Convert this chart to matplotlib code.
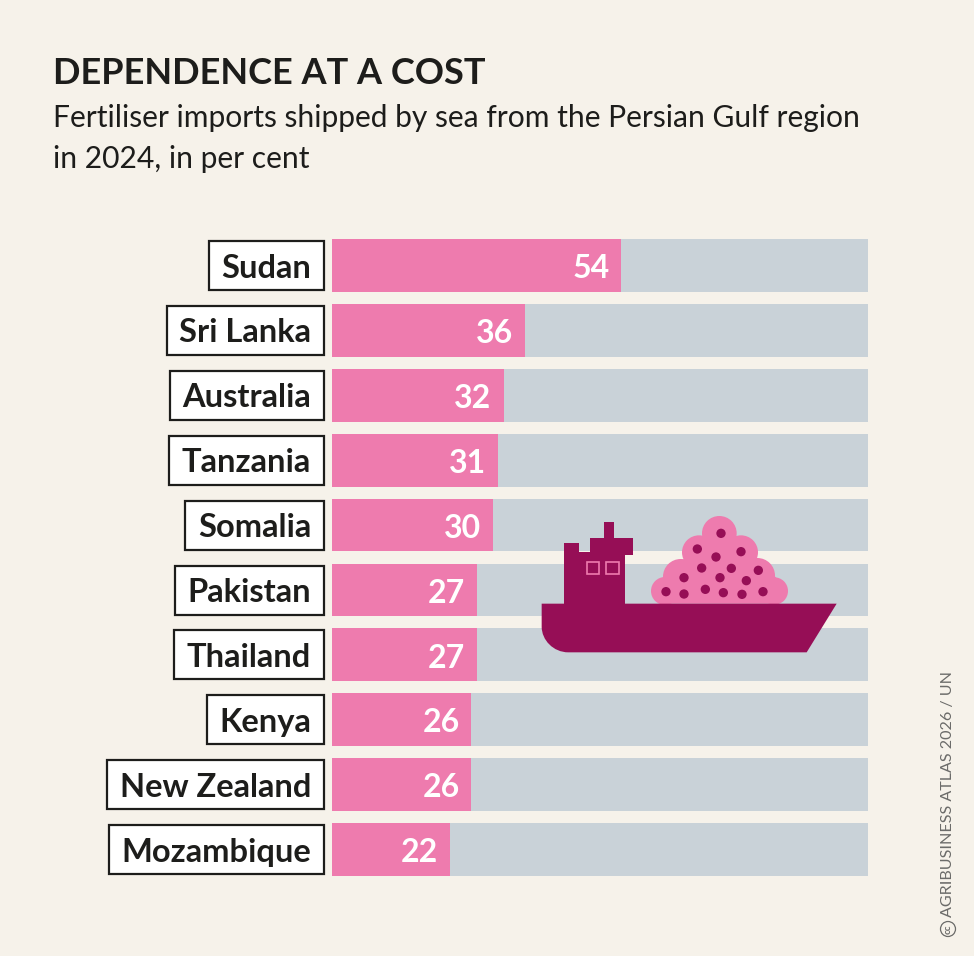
import matplotlib
matplotlib.use("Agg")
import matplotlib.pyplot as plt
from matplotlib.patches import Polygon, Circle, Rectangle, PathPatch
from matplotlib.path import Path

countries = ["Sudan", "Sri Lanka", "Australia", "Tanzania", "Somalia",
             "Pakistan", "Thailand", "Kenya", "New Zealand", "Mozambique"]
values = [54, 36, 32, 31, 30, 27, 27, 26, 26, 22]
full_scale = 100

BG = "#F6F2EA"
PINK = "#EE7BAE"
GREY = "#C9D2D8"
DARK = "#960E56"
INK = "#1D1D1B"
FONT = "Lato"

W, H = 974, 956
fig = plt.figure(figsize=(W / 100, H / 100), dpi=100, facecolor=BG)

# bars, axes placed by pixels
ax = fig.add_axes([332 / W, 1 - 882 / H, 536 / W, 649 / H])
ax.set_xlim(0, full_scale)
ax.set_ylim(9.5, -0.5)
ax.axis("off")
ypos = list(range(len(countries)))
ax.barh(ypos, [full_scale] * len(values), height=0.815, color=GREY, linewidth=0)
ax.barh(ypos, values, height=0.815, color=PINK, linewidth=0)
for y, v in zip(ypos, values):
    ax.annotate(str(v), xy=(v, y), xytext=(-8.6, -0.5), textcoords="offset points",
                ha="right", va="center_baseline", color="white",
                fontsize=23, fontweight="bold", family=FONT)

# overlay in pixel coordinates for the boxes, ship, titles
ov = fig.add_axes([0, 0, 1, 1], zorder=5)
ov.set_xlim(0, W)
ov.set_ylim(H, 0)
ov.axis("off")
ov.patch.set_alpha(0)

renderer = fig.canvas.get_renderer()
for i, name in enumerate(countries):
    yc = 265.5 + 64.9 * i
    t = ov.text(311, yc, name, ha="right", va="center_baseline", color=INK,
                fontsize=23.5, fontweight="bold", family=FONT, zorder=3)
    w = t.get_window_extent(renderer).width
    ov.add_patch(Rectangle((311 - w - 12.5, yc - 24.5), w + 25, 49, facecolor="white",
                           edgecolor=INK, linewidth=1.6, zorder=2))

ov.text(53, 70.5, "DEPENDENCE AT A COST", ha="left", va="center_baseline", color=INK,
        fontsize=26, fontweight="bold", family=FONT)
ov.text(53, 115.5, "Fertiliser imports shipped by sea from the Persian Gulf region",
        ha="left", va="center_baseline", color=INK, fontsize=21.6, family=FONT)
ov.text(53, 156.5, "in 2024, in per cent",
        ha="left", va="center_baseline", color=INK, fontsize=21.6, family=FONT)


def sx(z):
    return 530 + z / 3


def sy(z):
    return 505 + z / 3


# ship (crop coordinates)
pile = [(568, 85, 52), (507, 142, 51), (633, 142, 51), (452, 215, 53), (682, 212, 53),
        (405, 258, 42), (733, 258, 41)]
for cx, cy, r in pile:
    ov.add_patch(Circle((sx(cx), sy(cy)), r / 3, facecolor=PINK, linewidth=0, zorder=6))
ov.add_patch(Polygon([(sx(a), sy(b)) for a, b in
                      [(390, 296), (390, 225), (462, 162), (522, 92), (614, 92),
                       (680, 158), (745, 225), (745, 296)]],
                     facecolor=PINK, linewidth=0, zorder=6))
dots = [(573, 85), (502, 132), (633, 140), (558, 156), (515, 189), (604, 190), (685, 196),
        (462, 218), (570, 218), (649, 227), (526, 253), (408, 260), (462, 267), (580, 263),
        (636, 268), (699, 260)]
for cx, cy in dots:
    ov.add_patch(Circle((sx(cx), sy(cy)), 14 / 3, facecolor=DARK, linewidth=0, zorder=7))

hull = Path([(sx(35), sy(296)), (sx(920), sy(296)), (sx(830), sy(442)), (sx(115), sy(442)),
             (sx(70), sy(442)), (sx(35), sy(405)), (sx(35), sy(365)), (sx(35), sy(296))],
            [Path.MOVETO, Path.LINETO, Path.LINETO, Path.LINETO,
             Path.CURVE4, Path.CURVE4, Path.CURVE4, Path.CLOSEPOLY])
ov.add_patch(PathPatch(hull, facecolor=DARK, linewidth=0, zorder=8))
cabin = [(103, 300), (103, 114), (147, 114), (147, 142), (180, 142), (180, 98), (221, 98),
         (221, 50), (252, 50), (252, 98), (309, 98), (309, 150), (286, 150), (286, 300)]
ov.add_patch(Polygon([(sx(a), sy(b)) for a, b in cabin], facecolor=DARK, linewidth=0, zorder=8))
for wx in [170, 228]:
    ov.add_patch(Rectangle((sx(wx), sy(170)), 38 / 3, 38 / 3, facecolor="none",
                           edgecolor=PINK, linewidth=1.2, zorder=9))

# source, rotated
ov.add_patch(Circle((948, 929), 7.5, facecolor="none", edgecolor="#6B6B69", linewidth=0.9))
ov.text(948, 929, "cc", rotation=90, ha="center", va="center", color="#6B6B69",
        fontsize=7, fontweight="bold", family=FONT)
ov.text(948, 917, "AGRIBUSINESS ATLAS 2026 / UN", rotation=90, ha="center", va="bottom",
        color="#6B6B69", fontsize=11.6, family=FONT)

fig.savefig("out.png", dpi=100, facecolor=BG)
